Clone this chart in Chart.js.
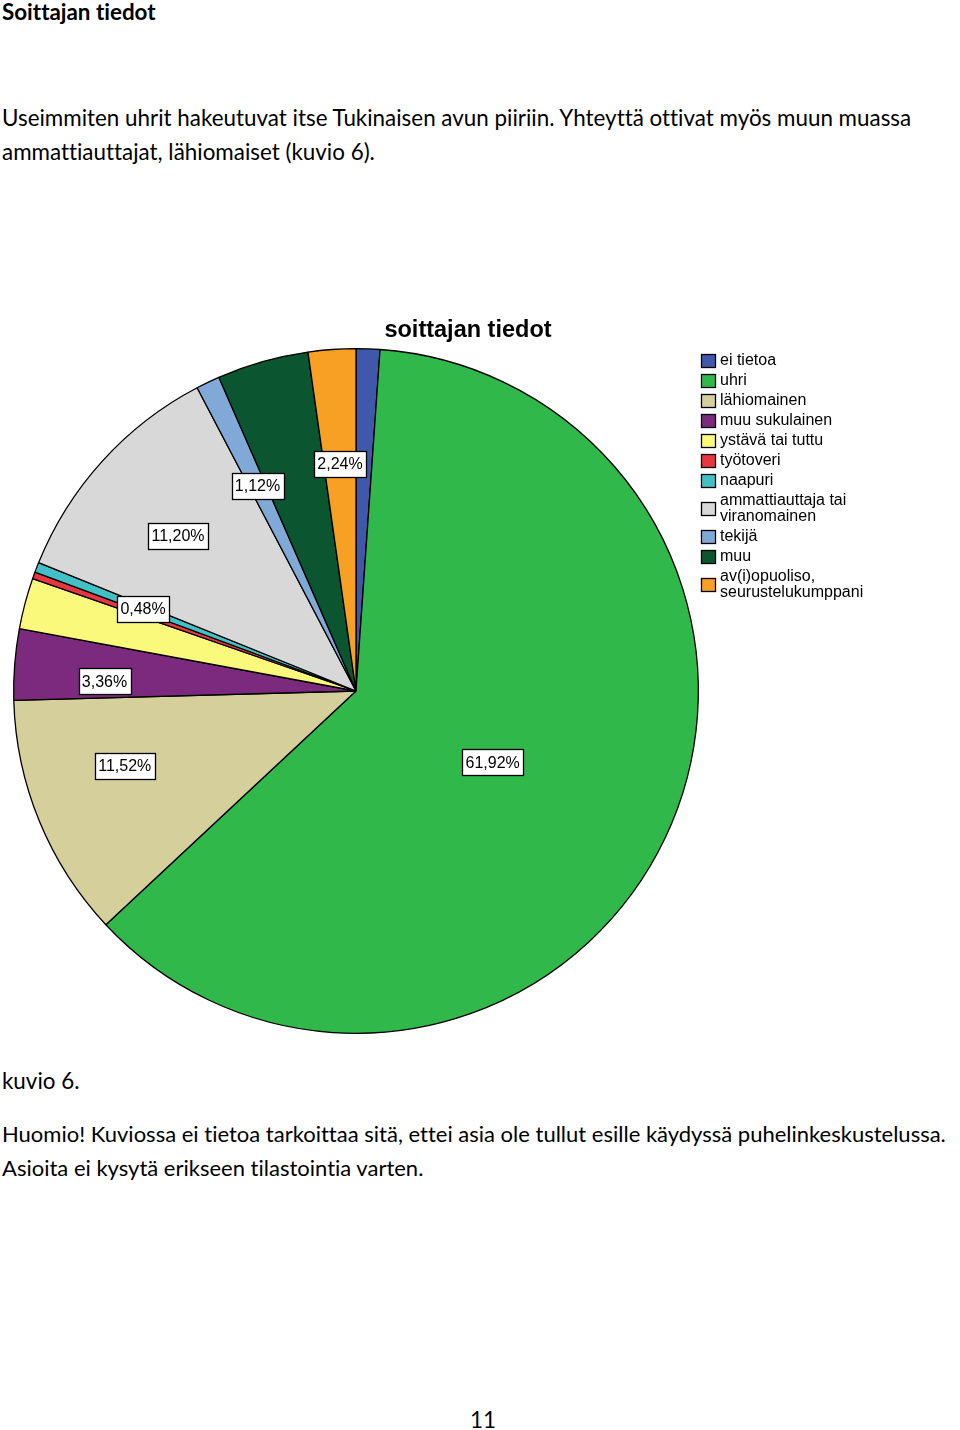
<!DOCTYPE html>
<html><head><meta charset="utf-8">
<script src="https://cdn.jsdelivr.net/npm/chart.js@4/dist/chart.umd.min.js"></script>
<style>
html,body{margin:0;padding:0;background:#fff;width:960px;height:1430px;overflow:hidden}
.t{position:absolute;left:2px;font-family:Lato,"Open Sans",sans-serif;font-size:22.4px;color:#000;white-space:nowrap;line-height:34px;font-variant-ligatures:none;font-feature-settings:"liga" 0}
#cv{position:absolute;left:0;top:300px}
</style></head><body>
<div class="t" style="top:-5px;font-weight:bold">Soittajan tiedot</div>
<div class="t" style="top:101px">Useimmiten uhrit hakeutuvat itse Tukinaisen avun piiriin. Yhteyttä ottivat myös muun muassa<br>ammattiauttajat, lähiomaiset (kuvio 6).</div>
<div class="t" style="top:1064px">kuvio 6.</div>
<div class="t" style="top:1117px;font-size:22px">Huomio! Kuviossa ei tietoa tarkoittaa sitä, ettei asia ole tullut esille käydyssä puhelinkeskustelussa.<br>Asioita ei kysytä erikseen tilastointia varten.</div>
<div class="t" style="top:1403px;left:470px">11</div>
<canvas id="cv" width="960" height="750"></canvas>
<script>
const chartTitle = "soittajan tiedot";
const categories = [
  "ei tietoa", "uhri", "lähiomainen", "muu sukulainen", "ystävä tai tuttu",
  "työtoveri", "naapuri", ["ammattiauttaja tai", "viranomainen"], "tekijä", "muu",
  ["av(i)opuoliso,", "seurustelukumppani"]
];
const percentages = [1.12, 61.92, 11.52, 3.36, 2.40, 0.32, 0.48, 11.20, 1.12, 4.32, 2.24];
const showLabel = [false, true, true, true, false, false, true, true, true, false, true];
const colors = ["#3f58a9", "#31b84b", "#d4cf9b", "#7b2a7e", "#fbf97b", "#e8353f",
  "#41c0c5", "#d8d8d8", "#80a9d8", "#0b5530", "#f7a024"];

const fmt = v => v.toFixed(2).replace(".", ",") + "%";

const labelPlugin = {
  id: "sliceLabels",
  afterDatasetsDraw(chart, args, opts) {
    const ctx = chart.ctx;
    const meta = chart.getDatasetMeta(0);
    ctx.save();
    ctx.font = "16px 'Liberation Sans', Arial, sans-serif";
    ctx.textAlign = "center";
    ctx.textBaseline = "middle";
    meta.data.forEach((arc, i) => {
      if (!showLabel[i]) return;
      const p = arc.getProps(["x", "y", "startAngle", "endAngle", "outerRadius"], true);
      const place = opts.place[i] || [opts.defaultFraction, 0];
      const mid = (p.startAngle + p.endAngle) / 2 + place[1] * Math.PI / 180;
      const cx = p.x + Math.cos(mid) * p.outerRadius * place[0];
      const cy = p.y + Math.sin(mid) * p.outerRadius * place[0];
      const txt = fmt(percentages[i]);
      const w = Math.round(ctx.measureText(txt).width + 7);
      const h = 26;
      const bx = Math.round(cx - w / 2) + 0.5, by = Math.round(cy - h / 2) + 0.5;
      ctx.fillStyle = "#fff";
      ctx.fillRect(bx, by, w, h);
      ctx.strokeStyle = "#000";
      ctx.lineWidth = 1.3;
      ctx.strokeRect(bx, by, w, h);
      ctx.fillStyle = "#000";
      ctx.fillText(txt, cx, cy + 1);
    });
    ctx.restore();
  }
};

const legendPlugin = {
  id: "sideLegend",
  afterDraw(chart, args, opts) {
    const ctx = chart.ctx;
    ctx.save();
    ctx.font = "bold 23.5px 'Liberation Sans', Arial, sans-serif";
    ctx.textAlign = "center";
    ctx.textBaseline = "middle";
    ctx.fillStyle = "#000";
    ctx.fillText(chartTitle, opts.titleX, opts.titleY);
    ctx.font = "16px 'Liberation Sans', Arial, sans-serif";
    ctx.textAlign = "left";
    let y = opts.y;
    categories.forEach((lab, i) => {
      const lines = Array.isArray(lab) ? lab : [lab];
      const boxCy = y + (lines.length - 1) * opts.lineH / 2;
      const by = Math.round(boxCy - 7) + 0.5;
      ctx.fillStyle = colors[i];
      ctx.fillRect(opts.x + 0.5, by, 14, 13);
      ctx.strokeStyle = "#000";
      ctx.lineWidth = 1.3;
      ctx.strokeRect(opts.x + 0.5, by, 14, 13);
      ctx.fillStyle = "#000";
      lines.forEach((ln, k) => ctx.fillText(ln, opts.x + 19, y + k * opts.lineH));
      y += opts.rowH + (lines.length - 1) * opts.lineH;
    });
    ctx.restore();
  }
};

new Chart(document.getElementById("cv"), {
  type: "pie",
  data: {
    labels: categories.map(c => Array.isArray(c) ? c.join(" ") : c),
    datasets: [{
      data: percentages,
      backgroundColor: colors,
      borderColor: "#000",
      borderWidth: 1.3,
      hoverOffset: 0
    }]
  },
  options: {
    responsive: false,
    animation: false,
    events: [],
    layout: { padding: { left: 13, top: 48, right: 261, bottom: 16 } },
    plugins: {
      legend: { display: false },
      tooltip: { enabled: false },
      title: { display: false },
      sliceLabels: {
        defaultFraction: 0.69,
        place: { 1: [0.45, 2], 2: [0.71, 4.4], 3: [0.735, -2.3], 6: [0.667, 0], 7: [0.69, -1.1], 8: [0.665, 0], 10: [0.665, 0] }
      },
      sideLegend: { x: 701, y: 60.5, lineH: 16, rowH: 20, titleX: 468, titleY: 30.5 }
    }
  },
  plugins: [labelPlugin, legendPlugin]
});
</script>
</body></html>
